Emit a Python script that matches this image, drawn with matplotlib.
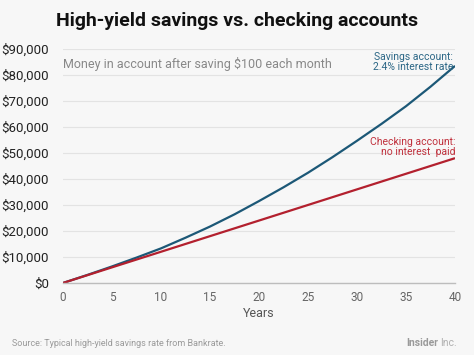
import matplotlib.pyplot as plt
import numpy as np

plt.rcParams['font.family'] = ['Roboto', 'DejaVu Sans']

# values
years_sav = [0, 2.5, 5, 7.5, 10, 12.5, 15, 17.5, 20, 22.5, 25, 27.5, 30, 32.5, 35, 37.5, 40]
savings = [0, 3100, 6350, 9750, 13300, 17400, 21700, 26400, 31500, 36800,
           42400, 48400, 54700, 61200, 68000, 75500, 83500]
years_chk = [0, 5, 10, 15, 20, 25, 30, 35, 40]
checking = [0, 6000, 12000, 18000, 24000, 30000, 36000, 42000, 48000]

xticks = [0, 5, 10, 15, 20, 25, 30, 35, 40]
yticks = [0, 10000, 20000, 30000, 40000, 50000, 60000, 70000, 80000, 90000]

bg = '#f7f7f7'
blue = '#1c5877'
red = '#b3202e'

fig = plt.figure(figsize=(4.74, 3.55), dpi=100, facecolor=bg)
ax = fig.add_axes([0.133, 0.203, 0.827, 0.659], facecolor=bg)

ax.plot(years_sav, savings, color=blue, lw=1.6, solid_capstyle='butt')
ax.plot(years_chk, checking, color=red, lw=1.6, solid_capstyle='butt')

ax.set_xlim(0, 40)
ax.set_ylim(0, 90000)
ax.set_xticks(xticks)
ax.set_yticks(yticks)
ax.set_yticklabels([f'${v:,.0f}' for v in yticks], fontsize=9.5, color='#222222')
ax.set_xticklabels([str(v) for v in xticks], fontsize=8.5, color='#666666')
ax.tick_params(length=0, pad=6)
ax.tick_params(axis='y', pad=10)
ax.grid(axis='y', color='#e3e3e3', lw=0.8)
ax.set_axisbelow(True)
for s in ['top', 'right', 'left']:
    ax.spines[s].set_visible(False)
ax.spines['bottom'].set_color('#bdbdbd')
ax.spines['bottom'].set_linewidth(1)
ax.set_xlabel('Years', fontsize=9, color='#555555', labelpad=2)

ax.text(0.0, 0.965, 'Money in account after saving $100 each month',
        transform=ax.transAxes, fontsize=9, color='#888888', va='top', ha='left')
ax.text(0.995, 0.985, 'Savings account:\n2.4% interest rate', transform=ax.transAxes,
        fontsize=7.5, color='#2c6786', va='top', ha='right', linespacing=1.0)
ax.text(1.0, 0.625, 'Checking account:\nno interest  paid', transform=ax.transAxes,
        fontsize=7.5, color='#c0303c', va='top', ha='right', linespacing=1.0)

fig.text(0.5, 0.94, 'High-yield savings vs. checking accounts', ha='center', va='center',
         fontsize=14, fontweight='bold', color='#111111')
fig.text(0.025, 0.033, 'Source: Typical high-yield savings rate from Bankrate.',
         fontsize=6.5, color='#9a9a9a', ha='left', va='center')
fig.text(0.925, 0.033, 'Insider', fontsize=7.5, fontweight='bold', color='#9a9a9a',
         ha='right', va='center')
fig.text(0.928, 0.033, 'Inc.', fontsize=7.5, color='#b0b0b0', ha='left', va='center')

fig.savefig('out.png', dpi=100, facecolor=bg)
